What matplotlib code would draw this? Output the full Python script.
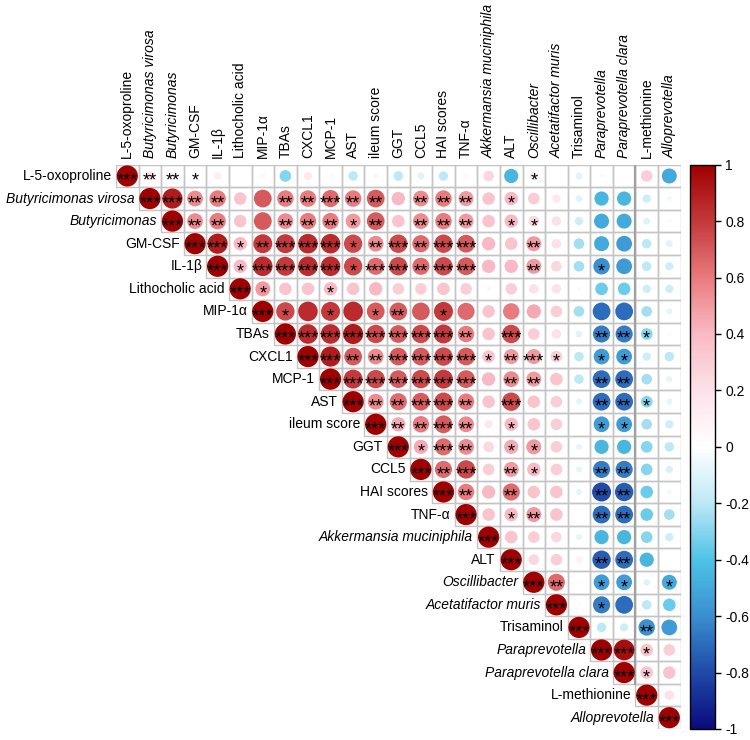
import matplotlib.pyplot as plt
import numpy as np
from matplotlib.colors import LinearSegmentedColormap, Normalize
from matplotlib.patches import Circle, Rectangle
import matplotlib.cm as cm

plt.rcParams['font.family'] = ['Liberation Sans', 'DejaVu Sans']

# Названия переменных (по порядку кластеризации)
labels = ['L-5-oxoproline', 'Butyricimonas virosa', 'Butyricimonas', 'GM-CSF', 'IL-1β',
          'Lithocholic acid', 'MIP-1α', 'TBAs', 'CXCL1', 'MCP-1', 'AST', 'ileum score',
          'GGT', 'CCL5', 'HAI scores', 'TNF-α', 'Akkermansia muciniphila', 'ALT',
          'Oscillibacter', 'Acetatifactor muris', 'Trisaminol', 'Paraprevotella',
          'Paraprevotella clara', 'L-methionine', 'Alloprevotella']
italic = [False, True, True, False, False, False, False, False, False, False, False, False,
          False, False, False, False, True, False, True, True, False, True, True, False, True]

# Верхний треугольник корреляций: строка i, столбцы i+1 .. n
corr_rows = [
    [0.2, 0.12, 0.05, 0.12, 0.0, 0.05, -0.3, 0.15, 0.05, -0.2, -0.05, -0.2, -0.1, -0.2, 0.05, 0.25, -0.45, 0.15, 0.0, -0.1, -0.03, 0.0, 0.3, -0.5],
    [0.9, 0.55, 0.6, 0.35, 0.7, 0.6, 0.6, 0.65, 0.6, 0.7, 0.4, 0.55, 0.6, 0.5, 0.35, 0.4, 0.3, 0.15, -0.1, -0.45, -0.45, -0.15, -0.05],
    [0.55, 0.6, 0.35, 0.7, 0.55, 0.6, 0.6, 0.5, 0.7, 0.35, 0.55, 0.6, 0.5, 0.35, 0.4, 0.25, 0.2, -0.15, -0.5, -0.5, -0.1, -0.03],
    [0.9, 0.4, 0.8, 0.8, 0.85, 0.85, 0.75, 0.55, 0.75, 0.65, 0.75, 0.7, 0.4, 0.35, 0.5, 0.2, -0.25, -0.5, -0.55, -0.2, -0.1],
    [0.4, 0.85, 0.8, 0.85, 0.85, 0.75, 0.65, 0.75, 0.65, 0.75, 0.7, 0.4, 0.4, 0.5, 0.25, -0.25, -0.6, -0.55, -0.2, -0.15],
    [0.5, 0.35, 0.35, 0.4, 0.35, 0.4, 0.3, 0.3, 0.35, 0.3, 0.05, 0.3, 0.2, 0.2, -0.03, -0.35, -0.35, -0.15, -0.15],
    [0.75, 0.85, 0.8, 0.85, 0.7, 0.7, 0.7, 0.8, 0.65, 0.35, 0.6, 0.45, 0.3, -0.25, -0.7, -0.7, -0.25, -0.08],
    [0.85, 0.85, 0.9, 0.75, 0.7, 0.75, 0.8, 0.6, 0.35, 0.75, 0.3, 0.2, -0.1, -0.65, -0.65, -0.3, -0.03],
    [0.9, 0.7, 0.55, 0.7, 0.7, 0.75, 0.7, 0.35, 0.5, 0.5, 0.3, -0.2, -0.55, -0.55, -0.15, -0.2],
    [0.8, 0.75, 0.7, 0.75, 0.8, 0.7, 0.4, 0.55, 0.5, 0.35, -0.2, -0.7, -0.7, -0.25, -0.08],
    [0.55, 0.65, 0.7, 0.75, 0.6, 0.35, 0.75, 0.35, 0.3, -0.08, -0.7, -0.7, -0.3, -0.08],
    [0.45, 0.6, 0.7, 0.55, 0.15, 0.4, 0.35, 0.3, 0.0, -0.55, -0.55, -0.25, -0.15],
    [0.45, 0.65, 0.55, 0.25, 0.45, 0.5, 0.3, -0.08, -0.45, -0.45, -0.3, -0.2],
    [0.65, 0.75, 0.3, 0.5, 0.4, 0.3, -0.08, -0.65, -0.65, -0.3, -0.12],
    [0.6, 0.4, 0.65, 0.35, 0.35, -0.08, -0.8, -0.75, -0.35, -0.05],
    [0.35, 0.4, 0.5, 0.35, 0.0, -0.7, -0.7, -0.35, -0.25],
    [0.35, 0.3, 0.25, -0.08, -0.45, -0.45, -0.3, -0.15],
    [0.25, 0.3, 0.1, -0.75, -0.7, -0.45, 0.0],
    [0.65, 0.02, -0.55, -0.55, -0.1, -0.5],
    [0.03, -0.65, -0.7, -0.2, -0.35],
    [-0.2, -0.15, -0.6, -0.55],
    [0.95, 0.35, 0.3],
    [0.35, 0.35],
    [0.2],
]

# Уровни значимости (число звёздочек)
sig_rows = [
    [2, 2, 1, 0, 0, 0, 0, 0, 0, 0, 0, 0, 0, 0, 0, 0, 0, 1, 0, 0, 0, 0, 0, 0],
    [3, 2, 2, 0, 0, 2, 2, 3, 2, 2, 0, 2, 2, 2, 0, 1, 0, 0, 0, 0, 0, 0, 0],
    [2, 2, 0, 0, 2, 2, 2, 1, 2, 0, 2, 2, 2, 0, 1, 1, 0, 0, 0, 0, 0, 0],
    [3, 1, 2, 3, 3, 3, 1, 2, 3, 2, 3, 3, 0, 0, 2, 0, 0, 0, 0, 0, 0],
    [1, 3, 3, 3, 3, 1, 3, 3, 2, 3, 3, 0, 0, 2, 0, 0, 1, 0, 0, 0],
    [1, 0, 0, 1, 0, 0, 0, 0, 0, 0, 0, 0, 0, 0, 0, 0, 0, 0, 0],
    [1, 0, 1, 0, 1, 2, 0, 1, 0, 0, 0, 0, 0, 0, 0, 0, 0, 0],
    [3, 3, 3, 3, 3, 3, 3, 2, 0, 3, 0, 0, 0, 2, 2, 1, 0],
    [3, 2, 2, 3, 3, 3, 3, 1, 2, 3, 1, 0, 1, 1, 0, 0],
    [3, 3, 3, 3, 3, 3, 0, 2, 2, 0, 0, 2, 2, 0, 0],
    [2, 2, 3, 3, 2, 0, 3, 0, 0, 0, 2, 2, 1, 0],
    [2, 2, 3, 2, 0, 1, 0, 0, 0, 1, 1, 0, 0],
    [1, 3, 2, 0, 1, 1, 0, 0, 0, 0, 0, 0],
    [2, 3, 0, 2, 1, 0, 0, 2, 2, 0, 0],
    [2, 0, 2, 0, 0, 0, 2, 2, 0, 0],
    [0, 1, 2, 0, 0, 2, 2, 0, 0],
    [0, 0, 0, 0, 0, 0, 0, 0],
    [0, 0, 0, 2, 2, 0, 0],
    [2, 0, 1, 1, 0, 1],
    [0, 1, 0, 0, 0],
    [0, 0, 2, 0],
    [3, 1, 0],
    [1, 0],
    [0],
]

n = len(labels)
corr = np.eye(n)
sig = np.zeros((n, n), dtype=int)
for i in range(n):
    sig[i, i] = 3
for i, row in enumerate(corr_rows):
    corr[i, i + 1:] = row
    sig[i, i + 1:] = sig_rows[i]

# Палитра как в corrplot
cmap = LinearSegmentedColormap.from_list('corr', [
    (0.0, '#0B0B7E'), (0.1, '#1F4BA8'), (0.2, '#3A8FD0'), (0.3, '#4EC3E6'),
    (0.4, '#BDE8F5'), (0.5, '#FFFFFF'), (0.6, '#FCE2E8'), (0.7, '#F9BAC5'),
    (0.8, '#E97B7E'), (0.9, '#C43A3C'), (1.0, '#A00000')])
norm = Normalize(-1, 1)

fig = plt.figure(figsize=(7.5, 7.4), dpi=100)
ax = fig.add_axes([116 / 750, 1 - 729 / 740, 564.6 / 750, 564.3 / 740])
ax.set_xlim(-0.5, n - 0.5)
ax.set_ylim(n - 0.5, -0.5)
ax.axis('off')

for i in range(n):
    for j in range(i, n):
        ax.add_patch(Rectangle((j - 0.5, i - 0.5), 1, 1, fill=False, ec='#C4C4C4', lw=1, zorder=1))
        r = corr[i, j]
        if abs(r) > 0:
            ax.add_patch(Circle((j, i), 0.47 * np.sqrt(abs(r)), fc=cmap(norm(r)), ec='none', zorder=2))
        if sig[i, j] > 0:
            ax.text(j, i + 0.24, '*' * sig[i, j], ha='center', va='center', fontsize=13, zorder=3)

# Граница кластеров
ax.plot([n - 2.5, n - 2.5], [-0.5, n - 2.5], color='#A0A0A0', lw=1.6, zorder=1.5)

# Подписи
for i in range(n):
    st = 'italic' if italic[i] else 'normal'
    ax.text(i - 0.68, i, labels[i], ha='right', va='center', fontsize=10, fontstyle=st)
    ax.text(i, -0.78, labels[i], ha='center', va='bottom', rotation=90, fontsize=10, fontstyle=st)

# Цветовая шкала
cax = fig.add_axes([690 / 750, 1 - 729 / 740, 25 / 750, 564.3 / 740])
cb = fig.colorbar(cm.ScalarMappable(norm=norm, cmap=cmap), cax=cax)
ticks = np.round(np.arange(-1, 1.01, 0.2), 1)
cb.set_ticks(ticks)
cb.set_ticklabels(['%g' % t if t != 0 else '0' for t in ticks])
cb.ax.tick_params(labelsize=10, length=4, width=1, direction='out')
cb.outline.set_linewidth(1)

plt.savefig('out.png', dpi=100)
plt.close()
